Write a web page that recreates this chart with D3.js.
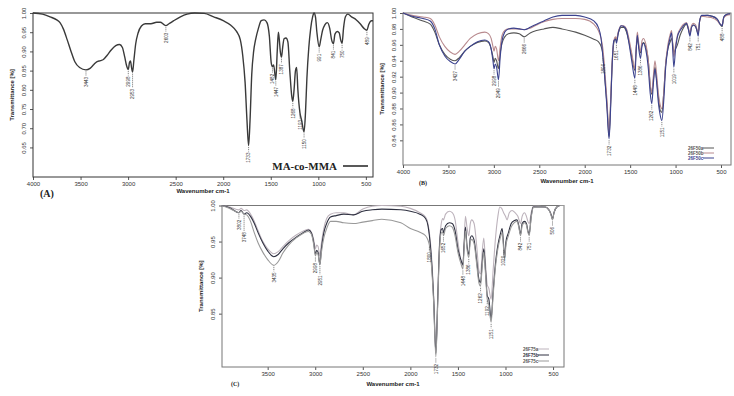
<!DOCTYPE html>
<html lang="en">
<head>
<meta charset="UTF-8">
<title>FTIR spectra - MA-co-MMA</title>
<style>
    body { margin: 0; background: #fff; }
    svg { display: block; font-family: "Liberation Sans", Arial, sans-serif; }
    .tick text { font-size: 6px; fill: #333; }
    .tick line { stroke: #555; }
    .peak { font-size: 4.6px; fill: #333; }
    .ttl { font-size: 6px; fill: #222; font-weight: bold; }
</style>
</head>
<body>
<script src="https://d3js.org/d3.v7.min.js"></script>
<script>
const width = 734, height = 396;

// ---- panel A : MA-co-MMA ----
const wnTicks = [4000, 3500, 3000, 2500, 2000, 1500, 1000, 500];
const yTicksA = [1.00, 0.95, 0.90, 0.85, 0.80, 0.75, 0.70, 0.65];
const peaksA = [3443, 2998, 2953, 2603, 1733, 1482, 1447, 1387, 1268, 1193, 1150, 991, 841, 750, 489];
const maMMA = [[4000,1.0],[3900,0.997],[3820,0.99],[3750,0.982],[3716,0.975],[3680,0.958],[3640,0.93],[3600,0.9],[3560,0.873],[3510,0.858],[3443,0.852],[3400,0.856],[3360,0.866],[3330,0.873],[3290,0.876],[3260,0.879],[3220,0.89],[3180,0.903],[3130,0.915],[3090,0.918],[3060,0.91],[3035,0.885],[3015,0.862],[2998,0.853],[2985,0.872],[2975,0.875],[2965,0.86],[2953,0.846],[2940,0.875],[2920,0.92],[2895,0.948],[2860,0.966],[2820,0.972],[2760,0.972],[2700,0.976],[2660,0.976],[2630,0.971],[2603,0.967],[2570,0.972],[2520,0.98],[2450,0.99],[2380,0.997],[2300,1.0],[2200,0.999],[2100,0.99],[2000,0.98],[1920,0.968],[1860,0.952],[1820,0.93],[1795,0.89],[1770,0.82],[1750,0.72],[1733,0.655],[1718,0.72],[1700,0.84],[1680,0.9],[1660,0.93],[1630,0.96],[1600,0.98],[1570,0.982],[1540,0.975],[1515,0.94],[1495,0.87],[1482,0.86],[1470,0.865],[1447,0.826],[1432,0.9],[1420,0.95],[1410,0.93],[1400,0.9],[1387,0.885],[1375,0.91],[1360,0.933],[1340,0.935],[1320,0.925],[1300,0.85],[1280,0.785],[1268,0.77],[1255,0.8],[1240,0.85],[1228,0.858],[1215,0.8],[1193,0.74],[1175,0.72],[1150,0.69],[1135,0.74],[1120,0.83],[1100,0.91],[1080,0.96],[1060,0.99],[1045,1.0],[1030,0.99],[1015,0.95],[991,0.912],[975,0.93],[955,0.955],[930,0.97],[905,0.975],[880,0.96],[860,0.93],[841,0.92],[825,0.945],[800,0.952],[780,0.948],[765,0.93],[750,0.921],[735,0.96],[715,0.99],[690,0.997],[650,0.99],[600,0.982],[560,0.972],[520,0.96],[489,0.955],[470,0.97],[440,0.98],[425,0.98]];

// ---- panel B : 26F50 series ----
const yTicksB = [1.00, 0.98, 0.96, 0.94, 0.92, 0.90, 0.88, 0.86, 0.84];
const namesB = ["26F50a", "26F50b", "26F50c"];
const peaksB = [3427, 2998, 2949, 2666, 1800, 1732, 1651, 1448, 1386, 1262, 1151, 1019, 842, 751, 488];
const f50a = [[4000,1.0],[3900,0.995],[3780,0.99],[3700,0.986],[3650,0.976],[3600,0.96],[3540,0.948],[3480,0.942],[3427,0.94],[3380,0.944],[3320,0.952],[3260,0.958],[3180,0.963],[3100,0.965],[3060,0.963],[3030,0.955],[3010,0.945],[2998,0.938],[2985,0.943],[2970,0.94],[2949,0.93],[2930,0.95],[2910,0.962],[2880,0.97],[2840,0.974],[2780,0.975],[2720,0.974],[2666,0.97],[2600,0.975],[2530,0.978],[2450,0.98],[2350,0.982],[2250,0.98],[2100,0.976],[2000,0.972],[1900,0.967],[1850,0.964],[1820,0.958],[1800,0.948],[1780,0.92],[1755,0.885],[1732,0.845],[1715,0.885],[1700,0.93],[1680,0.962],[1660,0.968],[1651,0.965],[1630,0.975],[1600,0.982],[1570,0.982],[1540,0.976],[1510,0.962],[1480,0.944],[1448,0.928],[1435,0.952],[1421,0.968],[1405,0.958],[1386,0.95],[1370,0.96],[1355,0.963],[1330,0.958],[1300,0.94],[1280,0.91],[1262,0.898],[1245,0.915],[1227,0.932],[1210,0.918],[1190,0.895],[1170,0.878],[1151,0.875],[1130,0.9],[1110,0.935],[1085,0.955],[1062,0.963],[1044,0.968],[1032,0.962],[1019,0.95],[1000,0.955],[980,0.96],[950,0.972],[920,0.98],[880,0.986],[860,0.98],[842,0.973],[825,0.982],[805,0.985],[780,0.983],[765,0.978],[751,0.974],[735,0.99],[714,0.996],[650,0.997],[600,0.996],[540,0.992],[510,0.986],[488,0.983],[470,0.994],[440,0.998],[400,0.999]];
const f50b = [[4000,1.0],[3900,0.997],[3780,0.995],[3700,0.993],[3650,0.985],[3600,0.97],[3540,0.958],[3480,0.951],[3427,0.948],[3380,0.952],[3320,0.96],[3260,0.968],[3180,0.974],[3100,0.976],[3060,0.974],[3030,0.968],[3010,0.958],[2998,0.952],[2985,0.958],[2970,0.955],[2949,0.94],[2930,0.958],[2910,0.972],[2880,0.978],[2840,0.98],[2780,0.98],[2720,0.98],[2666,0.979],[2600,0.981],[2530,0.985],[2450,0.989],[2350,0.992],[2250,0.993],[2100,0.993],[2000,0.992],[1900,0.986],[1850,0.978],[1820,0.968],[1800,0.955],[1780,0.93],[1755,0.89],[1732,0.85],[1715,0.89],[1700,0.935],[1680,0.965],[1660,0.97],[1651,0.967],[1630,0.977],[1600,0.984],[1570,0.984],[1540,0.98],[1510,0.966],[1480,0.948],[1448,0.93],[1435,0.955],[1421,0.976],[1405,0.962],[1386,0.952],[1370,0.965],[1355,0.968],[1330,0.962],[1300,0.94],[1280,0.912],[1262,0.9],[1245,0.92],[1227,0.94],[1210,0.925],[1190,0.9],[1170,0.885],[1151,0.88],[1130,0.9],[1110,0.935],[1085,0.96],[1062,0.972],[1044,0.978],[1032,0.962],[1019,0.945],[1000,0.96],[980,0.972],[950,0.98],[920,0.985],[880,0.988],[860,0.982],[842,0.975],[825,0.984],[805,0.987],[780,0.985],[765,0.98],[751,0.975],[735,0.99],[714,0.996],[650,0.995],[600,0.994],[540,0.99],[510,0.986],[488,0.985],[470,0.994],[440,0.997],[400,0.998]];
const f50c = [[4000,1.0],[3900,0.996],[3780,0.993],[3700,0.99],[3650,0.98],[3600,0.96],[3540,0.946],[3480,0.939],[3427,0.936],[3380,0.942],[3320,0.952],[3260,0.958],[3180,0.964],[3100,0.966],[3060,0.964],[3030,0.955],[3010,0.94],[2998,0.93],[2985,0.936],[2970,0.932],[2949,0.916],[2930,0.945],[2910,0.965],[2880,0.976],[2840,0.98],[2780,0.981],[2720,0.98],[2666,0.979],[2600,0.982],[2530,0.986],[2450,0.99],[2350,0.995],[2250,0.997],[2100,0.997],[2000,0.995],[1900,0.99],[1850,0.982],[1820,0.968],[1800,0.945],[1780,0.92],[1755,0.88],[1732,0.842],[1715,0.88],[1700,0.93],[1680,0.965],[1660,0.967],[1651,0.962],[1630,0.975],[1600,0.984],[1570,0.983],[1540,0.978],[1510,0.96],[1480,0.938],[1448,0.918],[1435,0.95],[1421,0.972],[1405,0.955],[1386,0.943],[1370,0.958],[1355,0.962],[1330,0.955],[1300,0.93],[1280,0.9],[1262,0.886],[1245,0.91],[1227,0.93],[1210,0.915],[1190,0.888],[1170,0.872],[1151,0.865],[1130,0.89],[1110,0.93],[1085,0.955],[1062,0.968],[1044,0.975],[1032,0.955],[1019,0.932],[1000,0.955],[980,0.97],[950,0.978],[920,0.983],[880,0.987],[860,0.98],[842,0.971],[825,0.982],[805,0.985],[780,0.983],[765,0.978],[751,0.971],[735,0.99],[714,0.997],[650,0.997],[600,0.996],[540,0.992],[510,0.986],[488,0.984],[470,0.995],[440,0.998],[400,0.999]];

// ---- panel C : 26F75 series ----
const wnTicksC = [3500, 3000, 2500, 2000, 1500, 1000, 500];
const yTicksC = [1.00, 0.95, 0.90, 0.85];
const namesC = ["26F75a", "26F75b", "26F75c"];
const peaksC = [3802, 3748, 3435, 2998, 2951, 1800, 1732, 1652, 1448, 1386, 1262, 1192, 1151, 1020, 842, 751, 506];
const f75a = [[3990,1.0],[3900,0.998],[3802,0.994],[3780,0.996],[3748,0.993],[3720,0.994],[3680,0.988],[3640,0.978],[3600,0.965],[3550,0.95],[3500,0.94],[3435,0.933],[3390,0.936],[3340,0.943],[3280,0.951],[3200,0.959],[3120,0.965],[3070,0.967],[3040,0.963],[3015,0.952],[2998,0.94],[2985,0.945],[2970,0.943],[2951,0.93],[2935,0.948],[2910,0.968],[2880,0.982],[2840,0.988],[2780,0.99],[2700,0.99],[2600,0.987],[2500,0.995],[2400,0.999],[2300,1.0],[2100,0.999],[2000,0.996],[1900,0.99],[1840,0.984],[1815,0.975],[1800,0.962],[1780,0.935],[1755,0.875],[1732,0.8],[1712,0.875],[1695,0.945],[1675,0.975],[1660,0.982],[1652,0.98],[1630,0.988],[1590,0.992],[1560,0.99],[1530,0.98],[1500,0.95],[1470,0.925],[1448,0.916],[1435,0.95],[1421,0.985],[1405,0.97],[1386,0.958],[1370,0.975],[1355,0.98],[1330,0.975],[1300,0.94],[1280,0.91],[1262,0.905],[1245,0.935],[1228,0.955],[1210,0.92],[1192,0.89],[1175,0.885],[1151,0.87],[1130,0.91],[1105,0.955],[1080,0.985],[1060,0.998],[1040,0.996],[1020,0.99],[1000,0.985],[983,0.98],[960,0.99],[930,0.993],[900,0.99],[870,0.985],[842,0.975],[825,0.985],[800,0.99],[780,0.985],[765,0.978],[751,0.975],[730,0.99],[708,0.999],[650,0.999],[584,0.998],[540,0.994],[520,0.988],[506,0.982],[490,0.99],[460,0.998],[420,1.0],[385,1.0]];
const f75b = [[3990,1.0],[3900,0.997],[3802,0.99],[3780,0.993],[3748,0.988],[3720,0.99],[3680,0.985],[3640,0.975],[3600,0.962],[3550,0.948],[3500,0.937],[3435,0.929],[3390,0.932],[3340,0.94],[3280,0.948],[3200,0.956],[3120,0.963],[3070,0.966],[3040,0.962],[3015,0.948],[2998,0.932],[2985,0.938],[2970,0.935],[2951,0.918],[2935,0.94],[2910,0.962],[2880,0.975],[2840,0.984],[2780,0.986],[2700,0.988],[2600,0.987],[2500,0.992],[2400,0.994],[2300,0.995],[2100,0.994],[2000,0.992],[1900,0.988],[1840,0.982],[1815,0.972],[1800,0.958],[1780,0.928],[1755,0.87],[1732,0.795],[1712,0.87],[1695,0.94],[1675,0.967],[1660,0.968],[1652,0.962],[1630,0.972],[1590,0.976],[1560,0.975],[1530,0.965],[1500,0.94],[1470,0.925],[1448,0.918],[1435,0.945],[1421,0.97],[1405,0.945],[1386,0.932],[1370,0.955],[1355,0.958],[1330,0.952],[1300,0.92],[1280,0.898],[1262,0.893],[1245,0.92],[1228,0.94],[1210,0.91],[1192,0.875],[1175,0.87],[1151,0.843],[1130,0.88],[1105,0.92],[1080,0.945],[1055,0.96],[1035,0.968],[1020,0.945],[1010,0.927],[995,0.95],[970,0.962],[940,0.975],[910,0.979],[880,0.98],[860,0.972],[842,0.96],[825,0.975],[800,0.978],[780,0.975],[765,0.965],[751,0.96],[730,0.985],[708,0.998],[650,0.998],[584,0.998],[540,0.993],[520,0.987],[506,0.981],[490,0.99],[460,0.998],[420,1.0],[385,1.0]];
const f75c = [[3990,1.0],[3900,0.996],[3802,0.99],[3780,0.992],[3748,0.988],[3720,0.987],[3680,0.978],[3640,0.962],[3600,0.948],[3550,0.935],[3500,0.925],[3435,0.917],[3390,0.922],[3340,0.934],[3280,0.945],[3200,0.955],[3120,0.962],[3070,0.964],[3040,0.96],[3015,0.945],[2998,0.93],[2985,0.935],[2970,0.932],[2951,0.918],[2935,0.935],[2910,0.955],[2880,0.968],[2840,0.978],[2780,0.978],[2700,0.976],[2600,0.975],[2500,0.977],[2400,0.979],[2300,0.981],[2100,0.976],[2000,0.968],[1900,0.963],[1840,0.958],[1815,0.952],[1800,0.945],[1780,0.92],[1755,0.865],[1732,0.79],[1712,0.865],[1695,0.935],[1675,0.962],[1660,0.963],[1652,0.958],[1630,0.968],[1590,0.972],[1560,0.97],[1530,0.958],[1500,0.935],[1470,0.92],[1448,0.912],[1435,0.94],[1421,0.965],[1405,0.94],[1386,0.928],[1370,0.95],[1355,0.953],[1330,0.947],[1300,0.915],[1280,0.893],[1262,0.888],[1245,0.915],[1228,0.935],[1210,0.905],[1192,0.87],[1175,0.862],[1151,0.838],[1130,0.875],[1105,0.915],[1080,0.94],[1055,0.955],[1035,0.962],[1020,0.94],[1010,0.925],[995,0.945],[970,0.958],[940,0.97],[910,0.976],[880,0.978],[860,0.97],[842,0.958],[825,0.972],[800,0.976],[780,0.973],[765,0.963],[751,0.958],[730,0.983],[708,0.997],[650,0.998],[584,0.998],[540,0.993],[520,0.986],[506,0.98],[490,0.99],[460,0.998],[420,1.0],[385,1.0]];

const svg = d3.select('body').append('svg')
    .attr('width', width)
    .attr('height', height);

function nearest(values, wn) {
    return values.reduce((a, b) => Math.abs(b[0] - wn) < Math.abs(a[0] - wn) ? b : a);
}

function panel(o) {
    const x = d3.scaleLinear().domain(o.xDomain).range([o.left, o.right]);
    const y = d3.scaleLinear().domain(o.yDomain).range([o.bottom, o.top]);
    const g = svg.append('g');

    // x axis
    const xa = g.append('g')
        .attr('transform', `translate(0,${o.bottom})`)
        .call(d3.axisBottom(x).tickValues(o.xTicks).tickSize(3).tickFormat(d3.format('d')));
    xa.select('.domain').remove();
    xa.selectAll('text').attr('y', 5);

    // y axis, labels turned on their side
    const ya = g.append('g')
        .attr('transform', `translate(${o.left},0)`)
        .call(d3.axisLeft(y).tickValues(o.yTicks).tickSize(3).tickFormat(d3.format('.2f')));
    ya.select('.domain').remove();
    ya.selectAll('text')
        .attr('x', 0).attr('dy', 0)
        .attr('text-anchor', 'middle')
        .attr('transform', 'translate(-7,0) rotate(-90)');

    g.append('rect')
        .attr('x', o.left).attr('y', o.top)
        .attr('width', o.right - o.left).attr('height', o.bottom - o.top)
        .attr('fill', 'none').attr('stroke', o.frame).attr('stroke-width', 1);

    // titles
    g.append('text').attr('class', 'ttl')
        .attr('transform', `translate(${o.left - 19},${(o.top + o.bottom) / 2}) rotate(-90)`)
        .attr('text-anchor', 'middle')
        .text('Transmittance [%]');
    g.append('text').attr('class', 'ttl')
        .attr('x', (o.left + o.right) / 2).attr('y', o.bottom + o.titleGap)
        .attr('text-anchor', 'middle')
        .text('Wavenumber cm-1');
    g.append('text')
        .attr('x', o.tagX).attr('y', o.tagY)
        .attr('font-family', '"Liberation Serif", serif')
        .attr('font-weight', 'bold')
        .attr('font-size', o.tagSize)
        .attr('fill', '#222')
        .text(o.tag);

    // spectra
    const line = d3.line()
        .x(d => x(d[0]))
        .y(d => y(d[1]))
        .curve(d3.curveMonotoneX);
    g.append('g').selectAll('path')
        .data(o.series)
        .join('path')
        .attr('d', d => line(d.values))
        .attr('fill', 'none')
        .attr('stroke', d => d.color)
        .attr('stroke-width', o.lineWidth);

    // peak labels with dashed leaders
    let prev = null;
    o.peaks.forEach(wn => {
        const t = d3.min(o.series, s => nearest(s.values, wn)[1]);
        const px = x(wn), py = y(t);
        let top = py + 7;
        const len = String(wn).length * 2.6;
        if (prev && px - prev.x < 5.5 && top < prev.bottom + 2 && top + len > prev.top) {
            top = prev.bottom + 2;
        }
        g.append('line')
            .attr('x1', px).attr('x2', px)
            .attr('y1', py + 1.5).attr('y2', top - 1)
            .attr('stroke', '#555').attr('stroke-width', 0.7)
            .attr('stroke-dasharray', '1.2,0.8');
        g.append('text').attr('class', 'peak')
            .attr('text-anchor', 'end')
            .attr('transform', `translate(${px + 1.7},${top}) rotate(-90)`)
            .text(wn);
        prev = { x: px, top: top, bottom: top + len };
    });

    return { x, y, g };
}

// (A)
const pa = panel({
    left: 33, right: 373, top: 13, bottom: 177,
    xDomain: [4000, 425], yDomain: [0.573, 1.0],
    xTicks: wnTicks, yTicks: yTicksA, peaks: peaksA,
    frame: '#333', lineWidth: 1.4, titleGap: 16,
    tag: '(A)', tagX: 40, tagY: 197, tagSize: 10,
    series: [{ name: 'MA-co-MMA', values: maMMA, color: '#3a3a3a' }]
});
pa.g.append('text')
    .attr('x', 337).attr('y', 170)
    .attr('text-anchor', 'end')
    .attr('font-family', '"Liberation Serif", serif')
    .attr('font-weight', 'bold')
    .attr('font-size', 11)
    .attr('fill', '#222')
    .text('MA-co-MMA');
pa.g.append('line')
    .attr('x1', 343).attr('x2', 368).attr('y1', 166).attr('y2', 166)
    .attr('stroke', '#222').attr('stroke-width', 1.5);

// (B)
const seriesB = [
    { name: namesB[0], values: f50a, color: '#555555' },
    { name: namesB[1], values: f50b, color: '#b88a8e' },
    { name: namesB[2], values: f50c, color: '#3b428e' }
];
const pb = panel({
    left: 403, right: 731, top: 13, bottom: 165,
    xDomain: [4000, 390], yDomain: [0.809, 1.0],
    xTicks: wnTicks, yTicks: yTicksB, peaks: peaksB,
    frame: '#777', lineWidth: 1.1, titleGap: 18,
    tag: '(B)', tagX: 419, tagY: 185, tagSize: 6,
    series: seriesB
});

// (C)
const seriesC = [
    { name: namesC[0], values: f75a, color: '#bdb3bc' },
    { name: namesC[1], values: f75b, color: '#2e3040' },
    { name: namesC[2], values: f75c, color: '#999999' }
];
const pc = panel({
    left: 222, right: 564, top: 205.5, bottom: 367,
    xDomain: [3980, 385], yDomain: [0.776, 1.0],
    xTicks: wnTicksC, yTicks: yTicksC, peaks: peaksC,
    frame: '#777', lineWidth: 1.1, titleGap: 19,
    tag: '(C)', tagX: 231, tagY: 386, tagSize: 6,
    series: seriesC
});

// legends
function legend(p, series, x0, y0, step) {
    const lg = p.g.append('g').selectAll('g')
        .data(series)
        .join('g')
        .attr('transform', (d, i) => `translate(${x0},${y0 + i * step})`);
    lg.append('text')
        .attr('font-size', 4.5).attr('font-weight', 'bold')
        .attr('fill', d => d3.hsl(d.color).l > 0.55 ? '#555' : d.color)
        .attr('y', 1.6)
        .text(d => d.name);
    lg.append('line')
        .attr('x1', 15).attr('x2', 26)
        .attr('stroke', d => d.color).attr('stroke-width', 1);
}
legend(pb, seriesB, 688, 148, 5);
legend(pc, seriesC, 523, 349, 6);
</script>
</body>
</html>
